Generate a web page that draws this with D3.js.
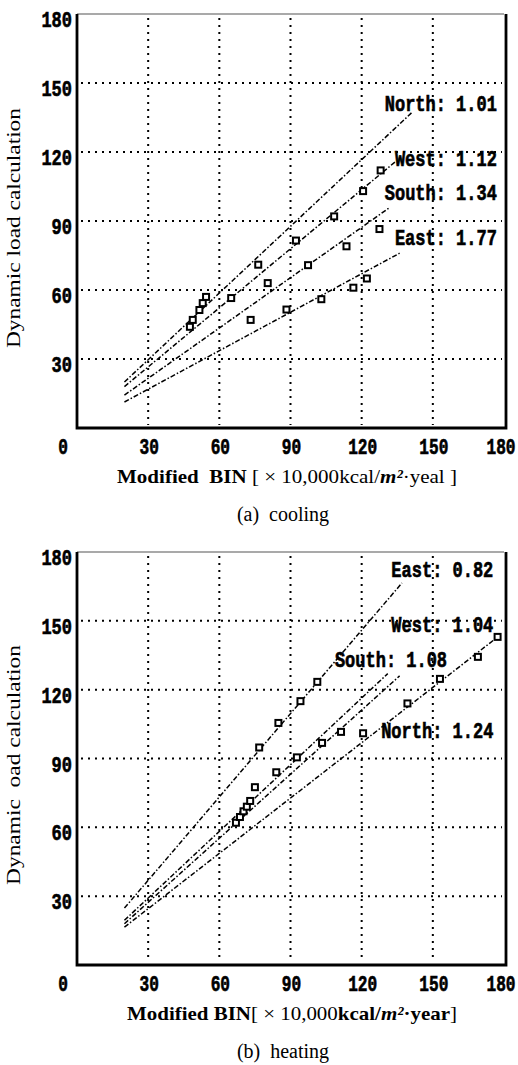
<!DOCTYPE html>
<html lang="en">
    <head>
        <meta charset="UTF-8" />
        <title>Dynamic load calculation vs Modified BIN</title>
        <script src="https://d3js.org/d3.v7.min.js"></script>
        <style>
            body {
                margin: 0;
                background: #fff;
            }

            .grid {
                stroke: #000;
                stroke-width: 2px;
                stroke-dasharray: 2, 5;
            }

            .fit {
                fill: none;
                stroke: #000;
                stroke-width: 1.5px;
                stroke-dasharray: 5, 2, 1.5, 2;
            }

            .marker {
                fill: #fff;
                stroke: #000;
                stroke-width: 2px;
            }

            .tick-label,
            .series-label {
                font-family: 'Liberation Mono', 'DejaVu Sans Mono', monospace;
                font-weight: bold;
                font-size: 17px;
                fill: #000;
                stroke: #000;
                stroke-width: 0.5px;
            }

            .axis-title,
            .caption {
                font-family: 'Liberation Serif', 'DejaVu Serif', serif;
                fill: #000;
            }
        </style>
    </head>
    <body>
        <svg width="518" height="1065"></svg>

        <script>
            // axes
            const xTicks = [0, 30, 60, 90, 120, 150, 180];
            const yTicks = [30, 60, 90, 120, 150, 180];
            const gridTicks = [30, 60, 90, 120, 150];

            // (a) cooling
            const coolNames = ['North', 'West', 'South', 'East'];
            const coolRatios = ['1.01', '1.12', '1.34', '1.77'];
            const coolFitFrom = [[20, 20], [20, 18], [20, 14.3], [20, 11.3]];
            const coolFitTo = [[141, 137], [134, 115.6], [132, 96], [136, 76]];
            const coolNorth = [[53, 54.3], [54.4, 57], [76.4, 71]];
            const coolWest = [[47.6, 44], [65, 56.5], [92.3, 81.5], [108.4, 92], [120.6, 103], [128, 112]];
            const coolSouth = [[48.8, 47], [80.4, 63], [97.4, 70.8], [113.6, 79], [127.5, 86.5]];
            const coolEast = [[51.6, 51.3], [73.2, 47], [88.3, 51.5], [103, 56], [116.5, 61], [122.2, 65]];

            // (b) heating
            const heatNames = ['East', 'West', 'South', 'North'];
            const heatRatios = ['0.82', '1.04', '1.08', '1.24'];
            const heatFitFrom = [[20, 24.8], [20, 19.5], [20, 18], [20, 16.5]];
            const heatFitTo = [[137, 166.5], [131, 127], [136, 126], [178, 143.5]];
            const heatEast = [[76.8, 94.8], [84.9, 105.5], [94.2, 115], [101.3, 123.4]];
            const heatWest = [[75, 77.5], [84, 84], [92.7, 90.5], [103.3, 96.8], [111.3, 101.6]];
            const heatSouth = [[67, 62], [68.7, 64.5], [70.2, 67], [71.6, 69], [73, 71.5]];
            const heatNorth = [[120.6, 101], [139.3, 114], [153, 124.7], [169, 134.3], [177.3, 143]];

            const svg = d3.select('svg');

            const x = d3.scaleLinear().domain([0, 180]).range([77, 504]);

            function drawPanel(cfg) {
                const y = d3.scaleLinear().domain([0, 180]).range(cfg.yRange);
                const g = svg.append('g');
                const x0 = x(0),
                    x1 = x(180),
                    y0 = y(0),
                    y1 = y(180);

                // dotted grid
                g.selectAll('.vgrid')
                    .data(gridTicks)
                    .enter()
                    .append('line')
                    .attr('class', 'grid')
                    .attr('x1', (d) => x(d))
                    .attr('x2', (d) => x(d))
                    .attr('y1', y1 + 4)
                    .attr('y2', y0 - 3);
                g.selectAll('.hgrid')
                    .data(gridTicks)
                    .enter()
                    .append('line')
                    .attr('class', 'grid')
                    .attr('x1', x0 + 4)
                    .attr('x2', x1 - 2)
                    .attr('y1', (d) => y(d))
                    .attr('y2', (d) => y(d));

                // frame: thin top, heavy left/bottom/right
                g.append('line')
                    .attr('x1', x0)
                    .attr('x2', x1)
                    .attr('y1', y1)
                    .attr('y2', y1)
                    .attr('stroke', '#555')
                    .attr('stroke-width', 1.2);
                g.append('path')
                    .attr('d', `M${x0},${y1}V${y0}H${x1 + 2}V${y1}`)
                    .attr('fill', 'none')
                    .attr('stroke', '#000')
                    .attr('stroke-width', 2.8);

                // tick labels
                g.selectAll('.ylab')
                    .data(yTicks)
                    .enter()
                    .append('text')
                    .attr('class', 'tick-label')
                    .attr('text-anchor', 'end')
                    .attr('transform', (d) => `translate(${x0 - 5},${y(d) + 13}) scale(1,1.3)`)
                    .text((d) => d);
                g.selectAll('.xlab')
                    .data(xTicks)
                    .enter()
                    .append('text')
                    .attr('class', 'tick-label')
                    .attr('text-anchor', 'middle')
                    .attr('transform', (d) => {
                        const px = d === 0 ? x(d) - 14 : d === 180 ? x(d) - 3 : x(d) + 1;
                        return `translate(${px},${y0 + 26}) scale(0.95,1.3)`;
                    })
                    .text((d) => d);

                // regression lines
                const line = d3
                    .line()
                    .x((d) => x(d[0]))
                    .y((d) => y(d[1]));
                g.selectAll('.fit')
                    .data(cfg.from.map((f, i) => [f, cfg.to[i]]))
                    .enter()
                    .append('path')
                    .attr('class', 'fit')
                    .attr('d', line);

                // measured points
                g.selectAll('.marker')
                    .data(cfg.points.flat())
                    .enter()
                    .append('rect')
                    .attr('class', 'marker')
                    .attr('x', (d) => x(d[0]) - 3)
                    .attr('y', (d) => y(d[1]) - 3)
                    .attr('width', 6)
                    .attr('height', 6);

                // series labels
                g.selectAll('.series-label')
                    .data(cfg.names)
                    .enter()
                    .append('text')
                    .attr('class', 'series-label')
                    .attr('text-anchor', 'end')
                    .attr('transform', (d, i) => `translate(${x(cfg.labelX[i])},${y(cfg.labelY[i])}) scale(1,1.3)`)
                    .text((d, i) => `${d}: ${cfg.ratios[i]}`);

                // axis titles
                g.append('text')
                    .attr('class', 'axis-title')
                    .attr('transform', `translate(20,${cfg.yTitleMid}) rotate(-90)`)
                    .attr('text-anchor', 'middle')
                    .attr('font-size', 19)
                    .attr('xml:space', 'preserve')
                    .attr('textLength', 240)
                    .attr('lengthAdjust', 'spacingAndGlyphs')
                    .text(cfg.yTitle);

                const xt = g
                    .append('text')
                    .attr('class', 'axis-title')
                    .attr('x', cfg.xTitleMid)
                    .attr('y', y0 + 55)
                    .attr('text-anchor', 'middle')
                    .attr('font-size', 19)
                    .attr('xml:space', 'preserve')
                    .attr('textLength', cfg.xTitleLen)
                    .attr('lengthAdjust', 'spacingAndGlyphs');
                xt.append('tspan').attr('font-weight', 'bold').text(cfg.xTitleHead);
                xt.append('tspan').text('[ × 10,000');
                xt.append('tspan').attr('font-weight', cfg.unitBold ? 'bold' : 'normal').text('kcal/');
                xt.append('tspan').attr('font-style', 'italic').attr('font-weight', 'bold').text('m²');
                xt.append('tspan').attr('font-weight', cfg.unitBold ? 'bold' : 'normal').text('·' + cfg.xTitleYear);
                xt.append('tspan').text(cfg.unitBold ? ']' : ' ]');

                g.append('text')
                    .attr('class', 'caption')
                    .attr('x', 283)
                    .attr('y', y0 + 93)
                    .attr('text-anchor', 'middle')
                    .attr('font-size', 20)
                    .attr('xml:space', 'preserve')
                    .text(cfg.caption);
            }

            drawPanel({
                yRange: [428, 14],
                names: coolNames,
                ratios: coolRatios,
                from: coolFitFrom,
                to: coolFitTo,
                points: [coolNorth, coolWest, coolSouth, coolEast],
                labelX: [177, 177, 177, 177],
                labelY: [138, 114, 99, 79.6],
                yTitle: 'Dynamic load calculation',
                yTitleMid: 228,
                xTitleHead: 'Modified  BIN ',
                xTitleYear: 'yeal',
                xTitleMid: 287,
                xTitleLen: 340,
                unitBold: false,
                caption: '(a)  cooling',
            });

            drawPanel({
                yRange: [965, 552],
                names: heatNames,
                ratios: heatRatios,
                from: heatFitFrom,
                to: heatFitTo,
                points: [heatEast, heatWest, heatSouth, heatNorth],
                labelX: [175.5, 175.5, 156, 175.5],
                labelY: [169, 145, 130, 99],
                yTitle: 'Dynamic  oad calculation',
                yTitleMid: 765,
                xTitleHead: 'Modified BIN',
                xTitleYear: 'year',
                xTitleMid: 292,
                xTitleLen: 330,
                unitBold: true,
                caption: '(b)  heating',
            });
        </script>
    </body>
</html>
